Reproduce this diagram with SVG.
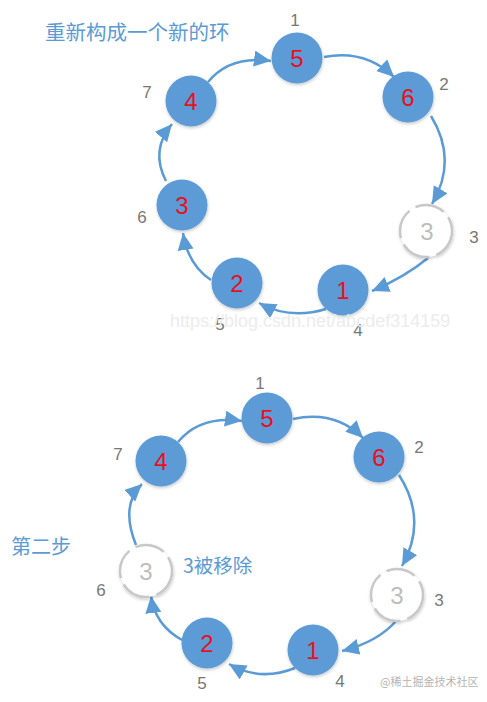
<svg xmlns="http://www.w3.org/2000/svg" width="487" height="702" viewBox="0 0 487 702">
<style>
.bg{fill:#ffffff}
.node{fill:#5b9bd5;filter:url(#sh)}
.gone{fill:#ffffff;stroke:#c8c8c8;stroke-width:2.5;stroke-dasharray:30 7;filter:url(#sh)}
.num{font-family:"Liberation Sans",Arial,sans-serif;font-size:24px;fill:#e8101e;text-anchor:middle}
.numg{font-family:"Liberation Sans",Arial,sans-serif;font-size:24px;fill:#bdbdbd;text-anchor:middle}
.lbl{font-family:"Liberation Sans",Arial,sans-serif;font-size:17px;fill:#777777;text-anchor:middle}
.title{font-family:"Noto Sans CJK SC","Noto Sans",sans-serif;fill:#5b9bd5}
.wm{font-family:"Liberation Sans",Arial,sans-serif;font-size:18px;fill:#ececec}
.wm2{font-family:"Noto Sans CJK SC","Noto Sans",sans-serif;font-size:11px;fill:#b4b4b4}
.edge{fill:none;stroke:#5b9bd5;stroke-width:2.5;marker-end:url(#arr)}
</style>
<defs>
<filter id="sh" x="-30%" y="-30%" width="160%" height="160%">
<feDropShadow dx="0.5" dy="1.5" stdDeviation="1.5" flood-color="#000" flood-opacity="0.22"/>
</filter>
<marker id="arr" markerUnits="userSpaceOnUse" markerWidth="20" markerHeight="18" refX="17" refY="8" orient="auto">
<path d="M0,0 L17,8 L0,16 z" fill="#5b9bd5"/>
</marker>
</defs>
<rect class="bg" x="0" y="0" width="487" height="702"/>

<text class="title" x="45" y="40" font-size="20.5">重新构成一个新的环</text>
<text class="title" x="11" y="554" font-size="20">第二步</text>
<text class="title" x="183" y="573" font-size="19.5">3被移除</text>

<g id="connectors">
<path class="edge" d="M208,82 Q230,55 271,61"/>
<path class="edge" d="M324,57 Q365,49 394,77"/>
<path class="edge" d="M431,116 Q458,160 432,204"/>
<path class="edge" d="M428,258 Q405,277 372,291"/>
<path class="edge" d="M326,309 Q290,320 259,303"/>
<path class="edge" d="M211,280 Q188,265 183,233"/>
<path class="edge" d="M166,181 Q150,150 172,124"/>

<path class="edge" d="M178,442 Q200,415 242,421"/>
<path class="edge" d="M293,419 Q335,410 363,438"/>
<path class="edge" d="M399,475 Q428,520 402,566"/>
<path class="edge" d="M397,620 Q378,642 342,651"/>
<path class="edge" d="M295,668 Q260,682 229,664"/>
<path class="edge" d="M182,640 Q155,625 151,596"/>
<path class="edge" d="M136,545 Q120,505 142,484"/>
</g>

<g id="t5"><circle class="node" cx="297" cy="58" r="25.5"/><text class="num" x="297" y="67">5</text><text class="lbl" x="295" y="26">1</text></g>
<g id="t6"><circle class="node" cx="408" cy="97" r="25.5"/><text class="num" x="408" y="106">6</text><text class="lbl" x="444" y="90">2</text></g>
<g id="t3gone"><circle class="gone" cx="426" cy="231" r="26"/><text class="numg" x="427" y="240">3</text><text class="lbl" x="474" y="243">3</text></g>
<g id="t1"><circle class="node" cx="343" cy="290" r="25.5"/><text class="num" x="343" y="299">1</text><text class="lbl" x="358" y="336">4</text></g>
<g id="t2"><circle class="node" cx="237" cy="283" r="25.5"/><text class="num" x="237" y="292">2</text><text class="lbl" x="220" y="330">5</text></g>
<g id="t3"><circle class="node" cx="182" cy="205" r="25.5"/><text class="num" x="182" y="214">3</text><text class="lbl" x="142" y="223">6</text></g>
<g id="t4"><circle class="node" cx="191" cy="101" r="25.5"/><text class="num" x="191" y="110">4</text><text class="lbl" x="147" y="98">7</text></g>

<text class="wm" x="170" y="327">https://blog.csdn.net/abcdef314159</text>

<g id="b5"><circle class="node" cx="267" cy="418" r="25.5"/><text class="num" x="267" y="427">5</text><text class="lbl" x="260" y="389">1</text></g>
<g id="b6"><circle class="node" cx="379" cy="457" r="25.5"/><text class="num" x="379" y="466">6</text><text class="lbl" x="419" y="453">2</text></g>
<g id="b3gone"><circle class="gone" cx="397" cy="595" r="26"/><text class="numg" x="397" y="604">3</text><text class="lbl" x="439" y="606">3</text></g>
<g id="b1"><circle class="node" cx="313" cy="650" r="25.5"/><text class="num" x="313" y="659">1</text><text class="lbl" x="340" y="687">4</text></g>
<g id="b2"><circle class="node" cx="207" cy="643" r="25.5"/><text class="num" x="207" y="652">2</text><text class="lbl" x="202" y="689">5</text></g>
<g id="b3removed"><circle class="gone" cx="146" cy="571" r="26"/><text class="numg" x="146" y="580">3</text><text class="lbl" x="101" y="596">6</text></g>
<g id="b4"><circle class="node" cx="161" cy="461" r="25.5"/><text class="num" x="161" y="470">4</text><text class="lbl" x="118" y="460">7</text></g>

<text class="wm2" x="380" y="686">@稀土掘金技术社区</text>
</svg>
